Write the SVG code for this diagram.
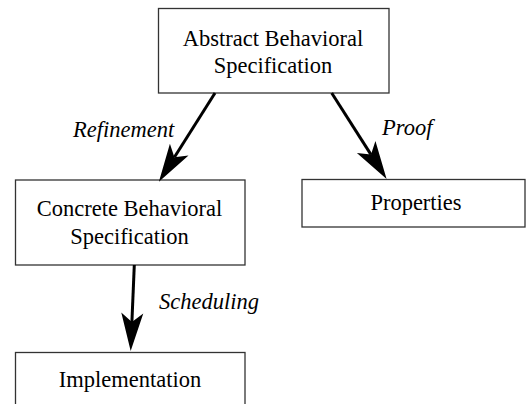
<svg xmlns="http://www.w3.org/2000/svg" width="526" height="404" viewBox="0 0 526 404">
<style>
.box{fill:#fff;stroke:#333;stroke-width:1.3}
.t{font-family:"Times New Roman",Times,"Liberation Serif",serif;font-size:22.5px;fill:#000;text-anchor:middle}
.lbl{font-family:"Times New Roman",Times,"Liberation Serif",serif;font-size:22.5px;font-style:italic;fill:#000}
.edge{stroke:#000;stroke-width:3;fill:none}
</style>
<defs>
<marker id="ah" markerUnits="userSpaceOnUse" viewBox="0 -12 40 24" markerWidth="40" markerHeight="24" refX="9" refY="0" orient="auto" overflow="visible">
<path d="M38,0 L0,-11 L9,0 L0,11 Z" fill="#000"/>
</marker>
</defs>
<rect width="526" height="404" fill="#fff"/>
<g id="abstract">
<rect class="box" x="158.5" y="8.5" width="230.5" height="84.5"/>
<text class="t" x="273" y="46">Abstract Behavioral</text>
<text class="t" x="273" y="73">Specification</text>
</g>
<g id="concrete">
<rect class="box" x="15.5" y="180" width="229.5" height="85"/>
<text class="t" x="129.5" y="216">Concrete Behavioral</text>
<text class="t" x="129.5" y="244">Specification</text>
</g>
<g id="properties">
<rect class="box" x="302" y="179.5" width="223" height="47.5"/>
<text class="t" x="416" y="210">Properties</text>
</g>
<g id="implementation">
<rect class="box" x="15.5" y="352.5" width="229.5" height="70"/>
<text class="t" x="130" y="387">Implementation</text>
</g>
<g id="connectors">
<line class="edge" x1="215" y1="93" x2="174.4" y2="157.2" marker-end="url(#ah)"/>
<line class="edge" x1="331.7" y1="93" x2="371.0" y2="154.6" marker-end="url(#ah)"/>
<line class="edge" x1="134.3" y1="265" x2="131.9" y2="322" marker-end="url(#ah)"/>
<text class="lbl" x="73" y="137">Refinement</text>
<text class="lbl" x="382" y="135">Proof</text>
<text class="lbl" x="159" y="309">Scheduling</text>
</g>
</svg>
